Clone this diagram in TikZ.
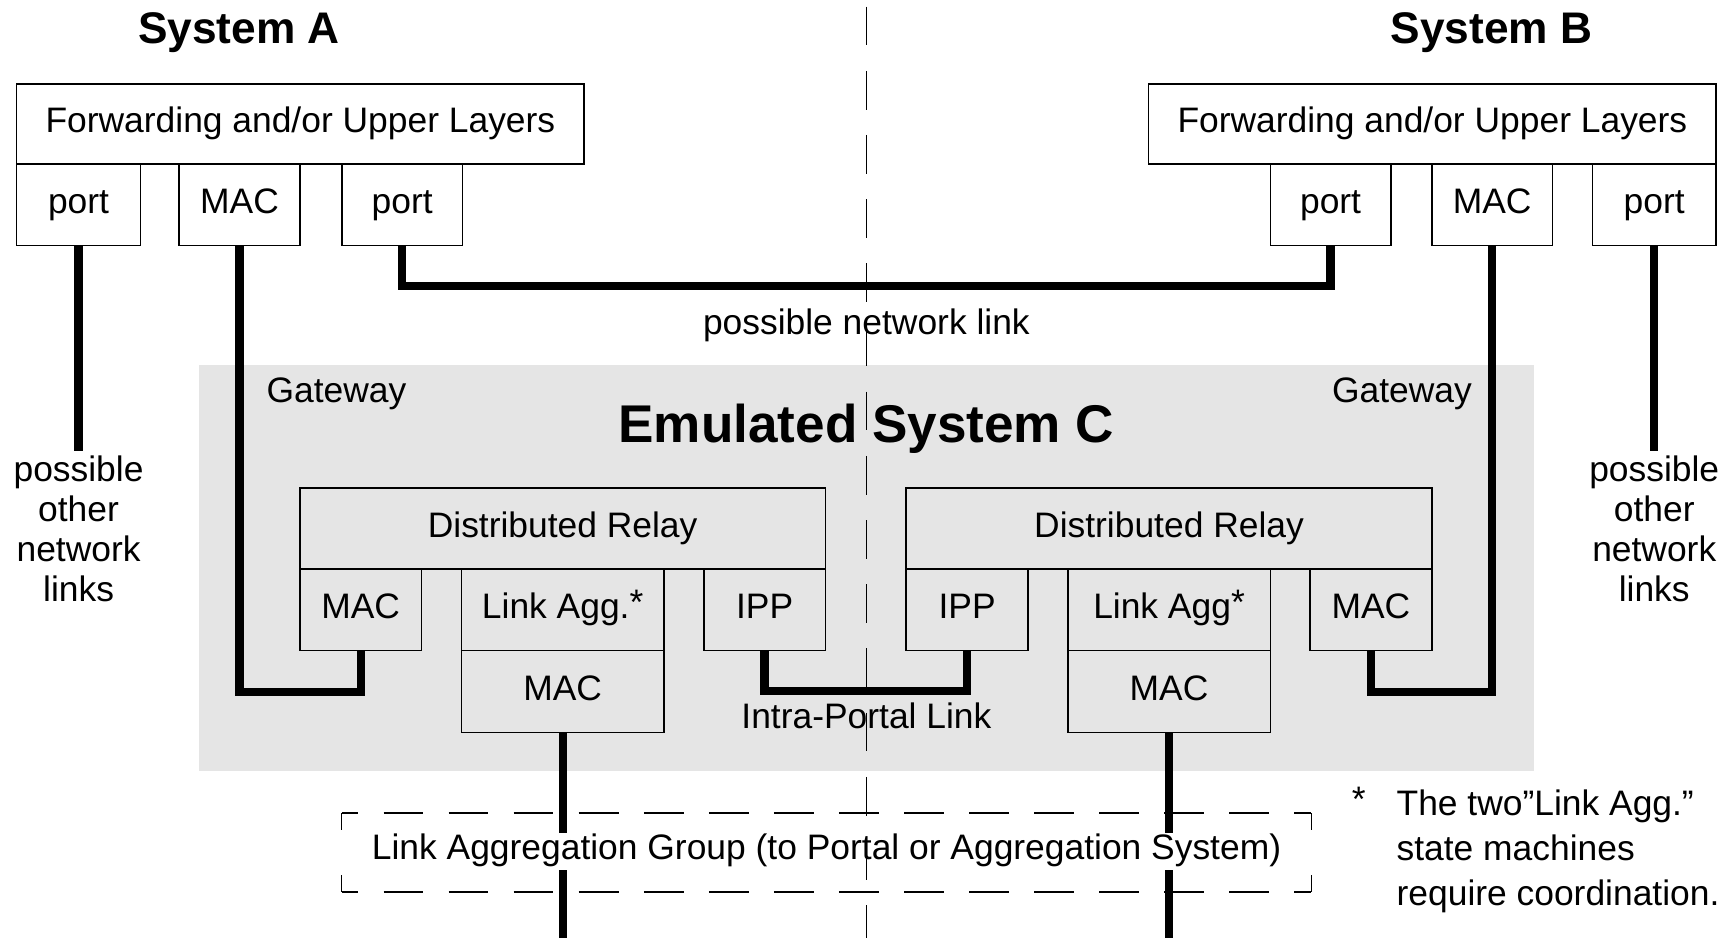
\documentclass[tikz,border=0pt]{standalone}
\usepackage{fontspec}
\setmainfont{Liberation Sans}
\newcommand\myfont{\fontsize{32}{36}\selectfont}
\newcommand\mytitlefont{\fontsize{40}{44}\selectfont\bfseries}
\newcommand\mybigfont{\fontsize{48}{52}\selectfont\bfseries}
\newcommand\mystar{\raisebox{4pt}{*}}
\begin{document}
\begin{tikzpicture}[x=1pt,y=-1pt,
  box/.style={draw, line width=1.4pt, inner sep=0pt, text height=23pt, text depth=7pt, font=\myfont},
  link/.style={line width=7.5pt, line join=miter},
  lbl/.style={inner sep=0pt, font=\myfont, anchor=base},
  region/.style={fill=gray!20, draw=none, inner sep=0pt},
  divider/.style={line width=1.3pt, dash pattern=on 35pt off 23pt, dash phase=52pt},
  hside/.style={line width=1.3pt, dash pattern=on 36pt off 22.8pt, dash phase=21pt},
  vside/.style={line width=1.3pt, dash pattern=on 15pt off 41pt}]
\useasboundingbox (0,0) rectangle (1568,848);

% gray region of the emulated system
\node[region, minimum width=1206pt, minimum height=367pt] (gw) at (783,513.5) {};

% System A
\node[box, minimum width=513pt, minimum height=72pt] (fA) at (271.5,112) {Forwarding and/or Upper Layers};
\node[box, minimum width=112pt, minimum height=74pt] (pA1) at (71,185) {port};
\node[box, minimum width=109pt, minimum height=74pt] (mA) at (216.5,185) {MAC};
\node[box, minimum width=109pt, minimum height=74pt] (pA2) at (363.5,185) {port};

% System B
\node[box, minimum width=513pt, minimum height=72pt] (fB) at (1294.5,112) {Forwarding and/or Upper Layers};
\node[box, minimum width=109pt, minimum height=74pt] (pB1) at (1202.5,185) {port};
\node[box, minimum width=109pt, minimum height=74pt] (mB) at (1348.5,185) {MAC};
\node[box, minimum width=112pt, minimum height=74pt] (pB2) at (1495,185) {port};

% Emulated System C, left half
\node[box, minimum width=475pt, minimum height=73pt] (drA) at (508.5,477.5) {Distributed Relay};
\node[box, minimum width=110pt, minimum height=74pt] (gmA) at (326,551) {MAC};
\node[box, minimum width=183pt, minimum height=74pt] (laA) at (508.5,551) {Link Agg.\mystar};
\node[box, minimum width=110pt, minimum height=74pt] (ippA) at (691,551) {IPP};
\node[box, minimum width=183pt, minimum height=74pt] (lmA) at (508.5,625) {MAC};

% Emulated System C, right half
\node[box, minimum width=475pt, minimum height=73pt] (drB) at (1056.5,477.5) {Distributed Relay};
\node[box, minimum width=110pt, minimum height=74pt] (ippB) at (874,551) {IPP};
\node[box, minimum width=183pt, minimum height=74pt] (laB) at (1056.5,551) {Link Agg\mystar};
\node[box, minimum width=110pt, minimum height=74pt] (gmB) at (1239,551) {MAC};
\node[box, minimum width=183pt, minimum height=74pt] (lmB) at (1056.5,625) {MAC};

% free ends
\coordinate (oA) at (71,408);
\coordinate (oB) at (1495,408);
\coordinate (bA) at (508.5,848);
\coordinate (bB) at (1056.5,848);
\coordinate (cTop) at (783,0);
\coordinate (cBot) at (783,848);

% thick links
\draw[link] (pA1.south) -- (oA);
\draw[link] (pB2.south) -- (oB);
\draw[link] (pA2.south) -- ++(0,36) -| (pB1.south);
\draw[link] (mA.south) -- ++(0,403) -| (gmA.south);
\draw[link] (mB.south) -- ++(0,403) -| (gmB.south);
\draw[link] (ippA.south) -- ++(0,36) -| (ippB.south);
\draw[link] (lmA.south) -- (bA);
\draw[link] (lmB.south) -- (bB);

% link aggregation group
\node[inner sep=0pt, minimum width=876pt, minimum height=71pt] (lag) at (747,770.5) {};
\draw[hside] (lag.north west) -- (lag.north east);
\draw[hside] (lag.south west) -- (lag.south east);
\draw[vside] (lag.north west) -- (lag.south west);
\draw[vside] (lag.north east) -- (lag.south east);
\node[lbl, fill=white, inner sep=1pt, text height=23pt, text depth=8pt] (lagt) at (747,777) {Link Aggregation Group (to Portal or Aggregation System)};

% titles and labels
\node[lbl, font=\mytitlefont] (tA) at (216,39) {System A};
\node[lbl, font=\mytitlefont] (tB) at (1348,39) {System B};
\node[lbl] (pnl) at (783,302) {possible network link};
\node[lbl] (gwA) at (304,364) {Gateway};
\node[lbl] (gwB) at (1267,364) {Gateway};
\node[lbl, font=\mybigfont] (tC) at (783,400) {Emulated System C};
\node[lbl] (ipl) at (783,658) {Intra-Portal Link};
\node[inner sep=0pt, font=\myfont, align=center] (onA) at (71,478) {possible\\other\\network\\links};
\node[inner sep=0pt, font=\myfont, align=center] (onB) at (1495,478) {possible\\other\\network\\links};
\node[lbl] (star) at (1228,733) {*};
\node[inner sep=0pt, anchor=west, align=left, font=\fontsize{32}{40.5}\selectfont] (note) at (1262,769.5) {The two"Link Agg.”\\state machines\\require coordination.};

% dividing line between the two systems
\draw[divider] (cTop) -- (cBot);
\end{tikzpicture}
\end{document}
